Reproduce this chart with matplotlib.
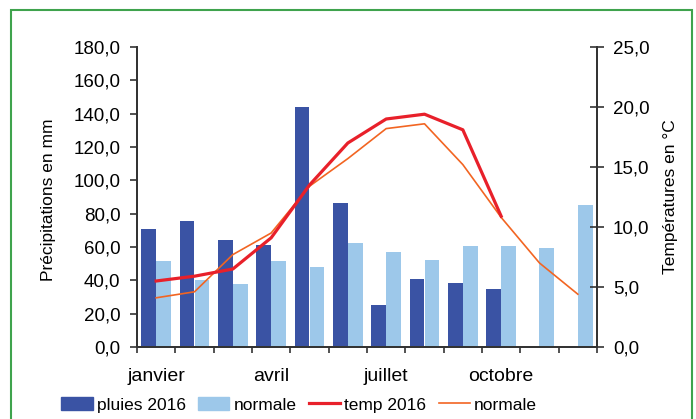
import matplotlib.pyplot as plt
from matplotlib.patches import Rectangle, Patch
from matplotlib.lines import Line2D
from matplotlib.ticker import FuncFormatter
import numpy as np

plt.rcParams['font.family'] = ['Liberation Sans', 'DejaVu Sans']

# Données
mois = ['janvier', 'février', 'mars', 'avril', 'mai', 'juin',
        'juillet', 'août', 'septembre', 'octobre', 'novembre', 'décembre']
pluies_2016 = [71, 75.5, 64, 61, 144, 86.5, 25, 41, 38.5, 35, 0, 0]
pluies_normale = [51.5, 40.5, 38, 51.5, 48, 62.5, 57, 52, 60.5, 60.5, 59.5, 85]
temp_2016 = [5.5, 5.9, 6.5, 9.1, 13.5, 17.0, 19.0, 19.4, 18.1, 10.9]
temp_normale = [4.1, 4.6, 7.7, 9.5, 13.4, 15.7, 18.2, 18.6, 15.2, 10.8, 7.0, 4.4]
mois_affiches = [0, 3, 6, 9]

c_pluie = '#3A53A4'
c_norm = '#9DC8EA'
c_temp = '#E8202A'
c_tnorm = '#F26522'
axe_col = '#333333'

fig = plt.figure(figsize=(6.96, 4.19), dpi=100)
ax = fig.add_axes([137/696, 1-347/419, 460/696, 300/419])
ax2 = ax.twinx()

x = np.arange(len(mois))
w = 0.39
ax.bar(x - w/2, pluies_2016, w, color=c_pluie, zorder=2)
ax.bar(x + w/2, pluies_normale, w, color=c_norm, zorder=2)

ax2.plot(np.arange(len(temp_normale)), temp_normale, color=c_tnorm, lw=1.2, zorder=3)
ax2.plot(np.arange(len(temp_2016)), temp_2016, color=c_temp, lw=2.3, zorder=4)

ax.set_xlim(-0.5, 11.5)
ax.set_ylim(0, 180)
ax2.set_ylim(0, 25)
ax.set_yticks(np.arange(0, 181, 20))
ax2.set_yticks(np.arange(0, 26, 5))
fmt = FuncFormatter(lambda v, p: f'{v:.1f}'.replace('.', ','))
ax.yaxis.set_major_formatter(fmt)
ax2.yaxis.set_major_formatter(fmt)

ax.set_xticks(np.arange(-0.5, 12, 1))
ax.set_xticklabels([])
ax.set_xticks(mois_affiches, minor=True)
ax.set_xticklabels([mois[i] for i in mois_affiches], minor=True, fontsize=14)
ax.tick_params(axis='x', which='minor', length=0, pad=15)
ax.tick_params(axis='x', which='major', length=4.5, width=1.2, color=axe_col, direction='out')
ax.tick_params(axis='y', length=5, width=1.2, color=axe_col, direction='out', labelsize=13.5, pad=7)
ax2.tick_params(axis='y', length=10, width=1.2, color=axe_col, direction='inout', labelsize=13.5, pad=6.5)

for a in (ax, ax2):
    a.spines['top'].set_visible(False)
    for s in ('left', 'right', 'bottom'):
        a.spines[s].set_color(axe_col)
        a.spines[s].set_linewidth(1.3)

ax.set_ylabel('Précipitations en mm', fontsize=12.5, va='center')
ax2.set_ylabel('Températures en °C', fontsize=12.5, va='center')
ax.yaxis.set_label_coords(-0.193, 0.49)
ax2.yaxis.set_label_coords(1.159, 0.50)

handles = [Patch(color=c_pluie), Patch(color=c_norm),
           Line2D([], [], color=c_temp, lw=2.3), Line2D([], [], color=c_tnorm, lw=1.2)]
labels = ['pluies 2016', 'normale', 'temp 2016', 'normale']
fig.legend(handles, labels, ncol=4, loc='center', bbox_to_anchor=(0.43, 1-405/419),
           frameon=False, fontsize=12.5, handlelength=1.8, handleheight=0.7,
           handletextpad=0.25, columnspacing=0.7, borderaxespad=0, borderpad=0)

# cadre vert
fig.patches.append(Rectangle((11/696, -0.05), 681/696, 1.05 - 10/419,
                             transform=fig.transFigure, fill=False,
                             edgecolor='#3FA34D', lw=1.5))

fig.savefig('out.png', dpi=100)
